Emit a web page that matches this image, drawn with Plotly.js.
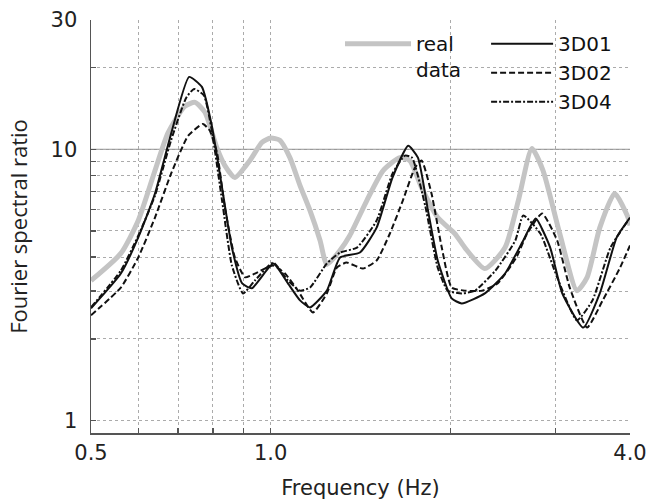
<!DOCTYPE html>
<html>
<head>
<meta charset="utf-8">
<script src="https://cdn.plot.ly/plotly-3.0.1.min.js"></script>
<style>html,body{margin:0;padding:0;background:#fff;}#chart{width:649px;height:500px;}</style>
</head>
<body>
<div id="chart"></div>
<script>
// ---- data ----
var realFreq  = [0.5, 0.561, 0.600, 0.640, 0.673, 0.718, 0.747, 0.776, 0.813, 0.838, 0.871, 0.923, 0.967, 1.0, 1.036, 1.077, 1.12, 1.164, 1.21, 1.242, 1.307, 1.357, 1.449, 1.543, 1.646, 1.71, 1.79, 1.905, 2.035, 2.115, 2.285, 2.47, 2.6, 2.74, 2.86, 3.05, 3.26, 3.39, 3.56, 3.77, 3.97, 4.0];
var realRatio = [3.28, 4.13, 5.46, 8.35, 11.5, 14.4, 14.9, 13.7, 10.1, 8.71, 7.87, 9.09, 10.6, 11.0, 10.8, 9.32, 7.35, 5.94, 4.61, 3.76, 4.24, 4.81, 6.47, 8.35, 9.32, 9.09, 7.22, 5.6, 4.89, 4.34, 3.63, 4.34, 6.47, 10.06, 8.35, 4.89, 3.01, 3.37, 5.14, 6.87, 5.6, 5.23];

var d01Freq  = [0.5, 0.561, 0.600, 0.640, 0.681, 0.730, 0.767, 0.797, 0.829, 0.861, 0.896, 0.93, 1.01, 1.069, 1.12, 1.164, 1.242, 1.307, 1.411, 1.505, 1.60, 1.70, 1.765, 1.835, 1.905, 2.01, 2.09, 2.285, 2.47, 2.65, 2.78, 2.94, 3.08, 3.34, 3.56, 3.8, 4.0];
var d01Ratio = [2.59, 3.48, 4.73, 6.87, 11.4, 18.5, 17.0, 12.2, 7.22, 4.34, 3.2, 3.07, 3.79, 3.2, 2.77, 2.61, 3.01, 3.99, 4.16, 5.14, 7.87, 10.3, 9.32, 5.94, 3.89, 2.82, 2.70, 2.94, 3.48, 4.61, 5.55, 4.34, 2.94, 2.2, 2.94, 4.73, 5.6];

var d02Freq  = [0.5, 0.561, 0.600, 0.640, 0.681, 0.727, 0.77, 0.791, 0.813, 0.838, 0.871, 0.906, 0.941, 1.01, 1.057, 1.111, 1.177, 1.242, 1.291, 1.34, 1.427, 1.505, 1.584, 1.665, 1.745, 1.79, 1.86, 1.935, 2.01, 2.115, 2.26, 2.40, 2.58, 2.69, 2.85, 3.02, 3.17, 3.39, 3.6, 3.85, 4.0];
var d02Ratio = [2.44, 3.09, 3.99, 5.6, 8.13, 11.2, 12.4, 11.7, 9.72, 6.1, 3.99, 3.37, 3.48, 3.73, 3.48, 3.01, 2.5, 2.94, 3.66, 3.82, 3.63, 3.89, 4.89, 6.47, 8.56, 9.09, 6.87, 4.34, 3.09, 3.01, 3.01, 3.2, 3.99, 4.89, 5.8, 4.61, 3.09, 2.2, 2.77, 3.66, 4.42];

var d04Freq  = [0.5, 0.561, 0.600, 0.640, 0.681, 0.722, 0.744, 0.773, 0.797, 0.829, 0.861, 0.899, 0.941, 1.01, 1.069, 1.12, 1.164, 1.242, 1.307, 1.395, 1.505, 1.60, 1.678, 1.725, 1.815, 1.905, 1.98, 2.09, 2.2, 2.38, 2.57, 2.65, 2.83, 3.02, 3.26, 3.46, 3.71, 3.97];
var d04Ratio = [2.61, 3.57, 4.8, 6.75, 10.8, 15.5, 16.7, 15.8, 11.7, 6.47, 3.73, 2.94, 3.28, 3.82, 3.28, 3.01, 3.09, 3.79, 4.16, 4.34, 5.46, 8.13, 9.48, 9.32, 6.2, 3.66, 3.01, 2.94, 3.01, 3.57, 4.61, 5.7, 4.89, 3.37, 2.34, 2.77, 4.34, 5.46];

var xTickVals = [0.5, 0.6, 0.7, 0.8, 0.9, 1, 2, 3, 4];
var xTickText = ['0.5', '', '', '', '', '1.0', '', '', '4.0'];
var yTickVals = [1, 2, 3, 4, 5, 6, 7, 8, 9, 10, 20, 30];
var yTickText = ['1', '', '', '', '', '', '', '', '', '10', '', '30'];

var FONT = 'DejaVu Sans, Verdana, sans-serif';

var traces = [
  {x: realFreq, y: realRatio, name: 'real<br>data', mode: 'lines', legend: 'legend',
   line: {color: '#c4c4c4', width: 5, shape: 'spline', smoothing: 0.6}},
  {x: d01Freq, y: d01Ratio, name: '3D01', mode: 'lines', legend: 'legend2',
   line: {color: '#111', width: 2, shape: 'spline', smoothing: 0.5}},
  {x: d02Freq, y: d02Ratio, name: '3D02', mode: 'lines', legend: 'legend2',
   line: {color: '#111', width: 2, dash: '6px,3px', shape: 'spline', smoothing: 0.5}},
  {x: d04Freq, y: d04Ratio, name: '3D04', mode: 'lines', legend: 'legend2',
   line: {color: '#111', width: 2, dash: '6px,2px,2px,2px', shape: 'spline', smoothing: 0.5}}
];

var layout = {
  width: 649, height: 500,
  margin: {l: 91, r: 19, t: 20, b: 67, pad: 0},
  paper_bgcolor: '#fff', plot_bgcolor: '#fff',
  showlegend: true,
  xaxis: {
    type: 'log', range: [Math.log10(0.5), Math.log10(4)],
    tickvals: xTickVals, ticktext: xTickText,
    showgrid: true, gridcolor: '#ababab', griddash: 'dot', gridwidth: 1,
    showline: true, linecolor: '#555', linewidth: 1.5, mirror: false,
    ticks: 'inside', ticklen: 5, tickcolor: '#555', tickwidth: 1.5,
    tickfont: {family: FONT, size: 21, color: '#222'},
    ticklabelstandoff: 0,
    zeroline: false, automargin: false,
    title: {text: 'Frequency (Hz)', font: {family: FONT, size: 21, color: '#222'}, standoff: 26}
  },
  yaxis: {
    type: 'log', range: [Math.log10(0.898), Math.log10(30)],
    tickvals: yTickVals, ticktext: yTickText,
    showgrid: true, gridcolor: '#ababab', griddash: 'dot', gridwidth: 1,
    showline: true, linecolor: '#555', linewidth: 1.5, mirror: false,
    ticks: 'inside', ticklen: 5, tickcolor: '#555', tickwidth: 1.5,
    tickfont: {family: FONT, size: 21, color: '#222'},
    ticklabelstandoff: 8,
    zeroline: false, automargin: false,
    title: {text: 'Fourier spectral ratio', font: {family: 'Open Sans, sans-serif', size: 22, color: '#222'}, standoff: 17}
  },
  shapes: [
    {type: 'line', xref: 'paper', x0: 0, x1: 1, yref: 'y', y0: 10, y1: 10,
     line: {color: '#9a9a9a', width: 1.2}, layer: 'below'}
  ],
  legend: {
    x: 0.462, y: 0.99, xanchor: 'left', yanchor: 'top', valign: 'top',
    bgcolor: 'rgba(0,0,0,0)', borderwidth: 0, itemwidth: 66,
    font: {family: FONT, size: 20, color: '#111'}
  },
  legend2: {
    x: 0.733, y: 0.99, xanchor: 'left', yanchor: 'top', valign: 'middle',
    bgcolor: 'rgba(0,0,0,0)', borderwidth: 0, itemwidth: 62, tracegroupgap: 0,
    font: {family: FONT, size: 20, color: '#111'}
  }
};

Plotly.newPlot('chart', traces, layout, {displayModeBar: false, staticPlot: true});
</script>
</body>
</html>
